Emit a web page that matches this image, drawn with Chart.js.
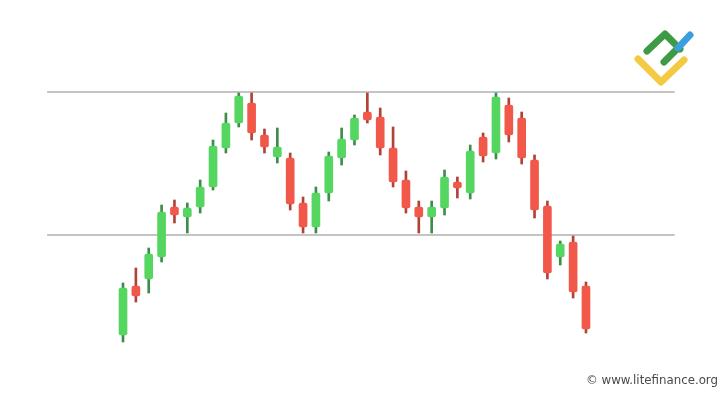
<!DOCTYPE html>
<html>
<head>
<meta charset="utf-8">
<script src="https://cdn.jsdelivr.net/npm/chart.js@4"></script>
<style>
  body { margin: 0; background: #fff; }
  #wrap { position: relative; width: 725px; height: 395px; overflow: hidden; }
  #logo { position: absolute; left: 0; top: 0; }
  #mark { position: absolute; right: 7px; top: 373px; font-family: "DejaVu Sans", sans-serif; font-size: 11.8px; color: #4a4a4a; }
</style>
</head>
<body>
<div id="wrap">
  <canvas id="grafico" width="725" height="395"></canvas>
  <svg id="logo" width="725" height="100">
    <g fill="none" stroke-linecap="round" stroke-linejoin="round" stroke-width="7">
      <polyline points="638,59 661,82 684,60" stroke="#f4c943"/>
      <polyline points="647,51 665,34 680,49" stroke="#3e9a45"/>
      <polyline points="664,62 678,48" stroke="#3e9a45"/>
      <polyline points="678,48 690,35" stroke="#3c9fdd"/>
    </g>
  </svg>
  <div id="mark">© www.litefinance.org</div>
</div>
<script>
// dados das velas (unidades de preço)
const abertura = [65, 114, 121, 143, 193, 183, 193, 213, 252, 277, 297, 265, 243, 242, 197, 173, 207, 242, 260, 288, 283, 252, 220, 193, 183, 192, 218, 207, 263, 247, 295, 282, 240, 194, 143, 158, 114]
const fechamento = [112, 104, 146, 188, 185, 192, 213, 254, 277, 304, 267, 253, 253, 196, 173, 207, 244, 261, 282, 280, 252, 218, 192, 183, 193, 223, 212, 249, 244, 303, 265, 242, 190, 127, 156, 108, 71]
const maxima = [117, 132, 152, 195, 200, 197, 220, 260, 287, 307, 307, 271, 272, 247, 203, 213, 248, 272, 285, 307, 292, 273, 229, 199, 199, 230, 223, 255, 267, 307, 302, 288, 245, 199, 159, 164, 118]
const minima = [58, 98, 107, 138, 177, 167, 187, 210, 247, 273, 260, 247, 237, 190, 167, 167, 199, 235, 255, 277, 245, 213, 187, 167, 167, 185, 202, 201, 238, 241, 258, 236, 182, 121, 135, 102, 67]

// niveis de resistencia e suporte
const resistencia = 308
const suporte = 165
const inicioNivel = -4.9
const fimNivel = 43.9

const verde = 'rgb(84, 214, 96)'
const vermelho = 'rgb(242, 88, 74)'
const pavioVerde = 'rgb(62, 140, 74)'
const pavioVermelho = 'rgb(176, 66, 56)'

const alta = abertura.map((o, i) => fechamento[i] >= o)
const pavios = abertura.map((o, i) => ({ x: i + 1, y: [minima[i], maxima[i]] }))
const corpos = abertura.map((o, i) => ({ x: i + 1, y: [o, fechamento[i]] }))

const linhaNivel = (v) => ({
    type: 'line',
    data: [{ x: inicioNivel, y: v }, { x: fimNivel, y: v }],
    borderColor: '#c4c4c4',
    borderWidth: 2,
    pointRadius: 0,
    order: 3
})

new Chart(document.getElementById('grafico'), {
    type: 'bar',
    data: {
        datasets: [
            linhaNivel(resistencia),
            linhaNivel(suporte),
            {
                data: pavios,
                backgroundColor: alta.map(a => a ? pavioVerde : pavioVermelho),
                barThickness: 2,
                grouped: false,
                order: 2
            },
            {
                data: corpos,
                backgroundColor: alta.map(a => a ? verde : vermelho),
                barThickness: 8,
                borderRadius: 2,
                borderSkipped: false,
                grouped: false,
                order: 1
            }
        ]
    },
    options: {
        responsive: false,
        animation: false,
        layout: { padding: 0 },
        plugins: { legend: { display: false }, tooltip: { enabled: false } },
        scales: {
            x: { type: 'linear', display: false, offset: false, min: -8.565, max: 47.81 },
            y: { display: false, min: 5, max: 400 }
        }
    }
})
</script>
</body>
</html>
